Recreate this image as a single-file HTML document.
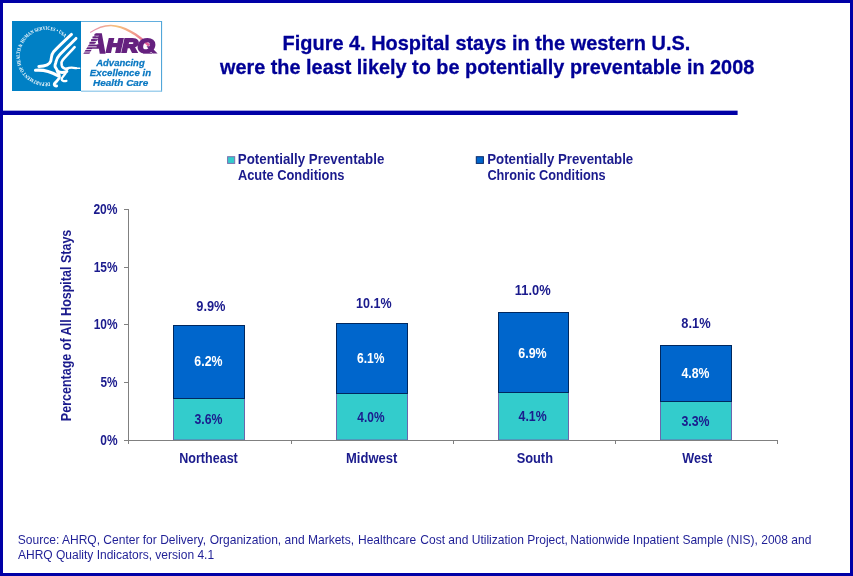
<!DOCTYPE html>
<html lang="en"><head><meta charset="utf-8"><title>Figure 4</title>
<style>
html,body{margin:0;padding:0;background:#fff;}
body{width:853px;height:576px;overflow:hidden;}
svg{display:block;font-family:"Liberation Sans",Arial,Helvetica,sans-serif;}
.serif{font-family:"Liberation Serif","Times New Roman",serif;}
</style></head><body>
<svg width="853" height="576" viewBox="0 0 853 576">
<defs>
<linearGradient id="arc" x1="0" y1="0" x2="1" y2="0">
<stop offset="0" stop-color="#e58ab4"/><stop offset="0.45" stop-color="#f6c27a"/><stop offset="0.75" stop-color="#f29a8e"/><stop offset="1" stop-color="#e0559c"/>
</linearGradient>
<path id="circ" d="M 50.0 82.4 A 26.4 26.4 0 1 1 64.87 37.63"/>
</defs>
<rect x="0" y="0" width="853" height="576" fill="#ffffff"/>

<rect x="1.5" y="1.5" width="850" height="573" fill="none" stroke="#0000a6" stroke-width="3"/>
<rect x="3" y="110.65" width="734.6" height="4.35" fill="#0000a6"/>
<g id="logo">
<rect x="12" y="21" width="69" height="70" fill="#0080c5"/>
<rect x="81" y="21" width="81" height="1" fill="#62aede"/><rect x="161" y="21" width="1.1" height="70.6" fill="#52a6d9"/><rect x="81" y="90.6" width="81" height="1.2" fill="#8cc6e9"/>
<text class="serif" font-size="5.2" font-weight="bold" fill="#ffffff"><textPath href="#circ" startOffset="0" textLength="107" lengthAdjust="spacingAndGlyphs">DEPARTMENT OF HEALTH &amp; HUMAN SERVICES • USA</textPath></text>
<g fill="none" stroke="#ffffff" stroke-linecap="round" stroke-linejoin="round">
<path d="M71.5 34.4 C66 39.5 58 47 53.6 51.8 C50.8 55 51.6 58.5 50.7 61.2 C49.6 64.6 45 66.2 38.8 66.5" stroke-width="2.9"/>
<path d="M76 38.4 C70 44.5 63.5 50.8 59.5 55 C56.2 58.6 56.4 60.6 55.6 63.2 C54.8 65.2 54.4 66.2 55.6 67.6 C57 69.2 57 70.4 57.8 72 C58.8 74 60 75.4 59.4 77.4 C58.6 79.8 55.4 82 54.4 83.8 C53.8 85.2 55 86 56.6 86" stroke-width="2.9"/>
<path d="M74.6 47.2 C71 51 66 56.2 62.8 59.8 C60.4 62.6 61.6 64.2 61.8 65.4 C62.2 67.4 64.4 68.8 67.6 68.8" stroke-width="2.6"/>
<path d="M66.5 68.8 C70.5 66.6 73.6 67.6 76 68.2" stroke-width="2.3"/>
<path d="M75 67.9 C76.5 68.2 78 68.4 79.8 68.2" stroke-width="1.5"/>
<path d="M35.5 70.3 C42 69.6 50 71.3 57.8 75.6" stroke-width="3.1"/>
<path d="M57.4 71 C60 72.8 63.5 72.8 66.8 71.4" stroke-width="3"/>
<path d="M66.2 72 C64.6 75.4 61.6 77.2 61.6 79.2 C61.8 81 64 81.4 66.4 80.8" stroke-width="2.3"/>
</g>
<path d="M90 32.1 C97 27 104 24.6 111 24.7 C124 25 138 33 150 44.5 L148.2 46.6 C137 35.6 124 27.2 111 26.2 C104 26.2 97 28.5 90.3 33.1 Z" fill="url(#arc)"/>
<text transform="translate(85.21 52.70) scale(1.1049 1)" font-size="27.00" font-weight="bold" font-style="italic" fill="#65217f" stroke="#65217f" stroke-width="1.4" stroke-linejoin="miter">A</text>
<text transform="translate(106.62 52.40) scale(1.1598 1)" font-size="18.60" font-weight="bold" font-style="italic" fill="#65217f" stroke="#65217f" stroke-width="2.1" stroke-linejoin="miter">HRQ</text>
<rect x="138" y="53.7" width="22" height="5" fill="#ffffff"/>
<path d="M146.5 46.2 L150.3 46.2 L157.6 53.6 L152.6 53.6 Z" fill="#65217f"/>
<g stroke="#ffffff" stroke-width="0.8">
<line x1="82.5" y1="36.0" x2="98.5" y2="36.0"/>
<line x1="82.5" y1="38.7" x2="98.1" y2="38.7"/>
<line x1="82.5" y1="41.4" x2="97.6" y2="41.4"/>
<line x1="82.5" y1="44.1" x2="97.2" y2="44.1"/>
<line x1="82.5" y1="46.8" x2="96.7" y2="46.8"/>
<line x1="82.5" y1="49.5" x2="96.2" y2="49.5"/>
<line x1="82.5" y1="52.0" x2="95.8" y2="52.0"/>
</g>
<g stroke="#65217f" stroke-width="1.6">
<line x1="94.5" y1="34.7" x2="98.0" y2="34.7"/>
<line x1="92.5" y1="37.3" x2="96.0" y2="37.3"/>
<line x1="91.0" y1="40.0" x2="95.0" y2="40.0"/>
<line x1="89.5" y1="42.7" x2="94.0" y2="42.7"/>
</g>
<text transform="translate(96.19 65.90) scale(0.9795 1)" font-size="9.70" font-weight="bold" font-style="italic" fill="#0a78c2" stroke="#0a78c2" stroke-width="0.25">Advancing</text>
<text transform="translate(89.83 75.90) scale(0.9985 1)" font-size="9.70" font-weight="bold" font-style="italic" fill="#0a78c2" stroke="#0a78c2" stroke-width="0.25">Excellence in</text>
<text transform="translate(93.03 85.90) scale(1.0249 1)" font-size="9.70" font-weight="bold" font-style="italic" fill="#0a78c2" stroke="#0a78c2" stroke-width="0.25">Health Care</text>
</g>
<text transform="translate(282.57 50.00) scale(0.9501 1)" font-size="21.00" font-weight="bold" fill="#000096" stroke="#000096" stroke-width="0.3">Figure 4. Hospital stays in the western U.S.</text>
<text transform="translate(219.96 74.00) scale(0.9460 1)" font-size="21.00" font-weight="bold" fill="#000096" stroke="#000096" stroke-width="0.3">were the least likely to be potentially preventable in 2008</text>
<rect x="227.6" y="156.7" width="7.1" height="6.7" fill="#33cccc" stroke="#7a6fb0" stroke-width="1"/>
<text transform="translate(237.81 163.70) scale(0.9513 1)" font-size="14.00" font-weight="bold" fill="#1b1b8d">Potentially Preventable</text>
<text transform="translate(237.88 179.60) scale(0.9203 1)" font-size="14.00" font-weight="bold" fill="#1b1b8d">Acute Conditions</text>
<rect x="476.3" y="156.7" width="7.1" height="6.7" fill="#0066cc" stroke="#0a2a6a" stroke-width="1"/>
<text transform="translate(487.21 163.70) scale(0.9493 1)" font-size="14.00" font-weight="bold" fill="#1b1b8d">Potentially Preventable</text>
<text transform="translate(487.38 179.60) scale(0.9112 1)" font-size="14.00" font-weight="bold" fill="#1b1b8d">Chronic Conditions</text>
<rect x="173.5" y="398.5" width="71.0" height="41.5" fill="#33cccc" stroke="#6a66ac" stroke-width="1"/>
<rect x="173.5" y="325.5" width="71.0" height="73.0" fill="#0066cc" stroke="#00285f" stroke-width="1"/>
<rect x="336.5" y="393.5" width="71.0" height="46.5" fill="#33cccc" stroke="#6a66ac" stroke-width="1"/>
<rect x="336.5" y="323.5" width="71.0" height="70.0" fill="#0066cc" stroke="#00285f" stroke-width="1"/>
<rect x="498.5" y="392.5" width="70.0" height="47.5" fill="#33cccc" stroke="#6a66ac" stroke-width="1"/>
<rect x="498.5" y="312.5" width="70.0" height="80.0" fill="#0066cc" stroke="#00285f" stroke-width="1"/>
<rect x="660.5" y="401.5" width="71.0" height="38.5" fill="#33cccc" stroke="#6a66ac" stroke-width="1"/>
<rect x="660.5" y="345.5" width="71.0" height="56.0" fill="#0066cc" stroke="#00285f" stroke-width="1"/>
<g fill="#808080">
<rect x="128" y="209" width="1" height="235"/>
<rect x="124" y="440" width="653.5" height="1"/>
<rect x="124" y="209" width="4" height="1"/>
<rect x="124" y="267" width="4" height="1"/>
<rect x="124" y="324" width="4" height="1"/>
<rect x="124" y="382" width="4" height="1"/>
<rect x="291" y="440" width="1" height="4"/>
<rect x="453" y="440" width="1" height="4"/>
<rect x="615" y="440" width="1" height="4"/>
<rect x="777" y="440" width="1" height="4"/>
</g>
<text transform="translate(93.38 214.00) scale(0.8614 1)" font-size="14.00" font-weight="bold" fill="#1b1b8d">20%</text>
<text transform="translate(93.65 272.00) scale(0.8517 1)" font-size="14.00" font-weight="bold" fill="#1b1b8d">15%</text>
<text transform="translate(93.65 329.00) scale(0.8517 1)" font-size="14.00" font-weight="bold" fill="#1b1b8d">10%</text>
<text transform="translate(100.54 387.00) scale(0.8387 1)" font-size="14.00" font-weight="bold" fill="#1b1b8d">5%</text>
<text transform="translate(100.23 445.00) scale(0.8544 1)" font-size="14.00" font-weight="bold" fill="#1b1b8d">0%</text>
<text transform="translate(71.00 421.14) rotate(-90) scale(0.8952 1)" font-size="14.00" font-weight="bold" fill="#1b1b8d">Percentage of All Hospital Stays</text>
<text transform="translate(196.25 310.90) scale(0.9177 1)" font-size="14.00" font-weight="bold" fill="#1b1b8d">9.9%</text>
<text transform="translate(194.35 365.80) scale(0.8831 1)" font-size="14.00" font-weight="bold" fill="#ffffff">6.2%</text>
<text transform="translate(194.52 423.60) scale(0.8777 1)" font-size="14.00" font-weight="bold" fill="#1b1b8d">3.6%</text>
<text transform="translate(356.11 308.00) scale(0.8935 1)" font-size="14.00" font-weight="bold" fill="#1b1b8d">10.1%</text>
<text transform="translate(357.06 362.80) scale(0.8605 1)" font-size="14.00" font-weight="bold" fill="#ffffff">6.1%</text>
<text transform="translate(357.32 421.90) scale(0.8522 1)" font-size="14.00" font-weight="bold" fill="#1b1b8d">4.0%</text>
<text transform="translate(514.79 295.00) scale(0.9211 1)" font-size="14.00" font-weight="bold" fill="#1b1b8d">11.0%</text>
<text transform="translate(518.29 357.80) scale(0.8911 1)" font-size="14.00" font-weight="bold" fill="#ffffff">6.9%</text>
<text transform="translate(518.56 420.90) scale(0.8826 1)" font-size="14.00" font-weight="bold" fill="#1b1b8d">4.1%</text>
<text transform="translate(681.29 328.00) scale(0.9197 1)" font-size="14.00" font-weight="bold" fill="#1b1b8d">8.1%</text>
<text transform="translate(681.51 378.00) scale(0.8778 1)" font-size="14.00" font-weight="bold" fill="#ffffff">4.8%</text>
<text transform="translate(681.42 425.90) scale(0.8809 1)" font-size="14.00" font-weight="bold" fill="#1b1b8d">3.3%</text>
<text transform="translate(179.26 462.70) scale(0.8967 1)" font-size="14.00" font-weight="bold" fill="#1b1b8d">Northeast</text>
<text transform="translate(346.03 462.70) scale(0.9276 1)" font-size="14.00" font-weight="bold" fill="#1b1b8d">Midwest</text>
<text transform="translate(516.63 462.70) scale(0.9171 1)" font-size="14.00" font-weight="bold" fill="#1b1b8d">South</text>
<text transform="translate(682.19 462.70) scale(0.9027 1)" font-size="14.00" font-weight="bold" fill="#1b1b8d">West</text>
<text transform="translate(17.85 543.80) scale(1.0033 1)" font-size="12.00" fill="#1f1f96">Source: AHRQ, Center for Delivery, <tspan x="191.24">Organization, and Markets, </tspan><tspan x="339.03">Healthcare </tspan><tspan x="401.10">Cost and Utilization </tspan><tspan x="507.67">Project, </tspan><tspan x="550.62">Nationwide </tspan><tspan x="612.99">Inpatient </tspan><tspan x="662.39">Sample (NIS), 2008 and</tspan></text>
<text transform="translate(17.98 558.70) scale(1.0002 1)" font-size="12.00" font-weight="normal" fill="#1f1f96">AHRQ Quality Indicators, version 4.1</text>
</svg></body></html>
